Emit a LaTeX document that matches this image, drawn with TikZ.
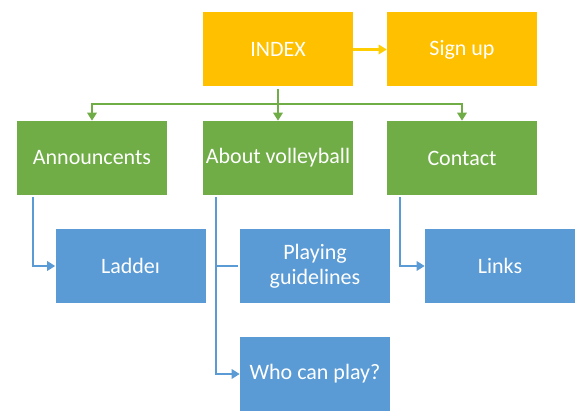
\documentclass[tikz,border=0pt]{standalone}
\usepackage{fontspec}
\setmainfont{Carlito}
\usetikzlibrary{arrows.meta,calc}
\definecolor{corange}{HTML}{FFC000}
\definecolor{cgreen}{HTML}{70AD47}
\definecolor{cblue}{HTML}{5B9BD5}
\begin{document}
\begin{tikzpicture}[x=0.75pt,y=-0.75pt,
  box/.style={minimum width=112.5pt,minimum height=55.5pt,inner sep=0pt,text=white,font=\fontsize{16.5}{19}\selectfont,align=center},
  obox/.style={box,fill=corange},
  gbox/.style={box,fill=cgreen},
  bbox/.style={box,fill=cblue},
  tip/.style={-{Triangle[length=6pt,width=7pt]}},
  gline/.style={draw=cgreen,line width=1.6pt},
  bline/.style={draw=cblue,line width=1.6pt},
  oline/.style={draw=corange!80!yellow,line width=1.6pt}]
\useasboundingbox (0,0) rectangle (583,413);
\node[obox] (idx) at (278,49.5) {INDEX};
\node[obox] (sig) at (462,49.5) {Sign up};
\node[gbox] (ann) at (92,158) {Announcents};
\node[gbox] (abv) at (278,158) {About volleyball};
\node[gbox] (con) at (462,158) {Contact};
\node[bbox] (lad) at (130.5,266) {Laddeı};
\node[bbox] (pla) at (315,266) {Playing\\guidelines};
\node[bbox] (lnk) at (500,266) {Links};
\node[bbox] (who) at (315,374) {Who can play?};
% top
\draw[oline,tip] (idx.east) -- (sig.west);
\draw[gline,tip,shorten <=1.5pt] (idx.south) -- (abv.north);
\draw[gline,tip] ($(idx.south)+(0,17)$) -| (ann.north);
\draw[gline,tip] ($(idx.south)+(0,17)$) -| (con.north);
% lower
\draw[bline,tip,shorten <=1.5pt] ($(ann.south west)+(16,0)$) |- (lad.west);
\draw[bline,tip,shorten <=1.5pt] ($(abv.south west)+(13,0)$) |- (who.west);
\draw[bline] ($(pla.west)+(-2,0)$) -- ++(-22,0);
\draw[bline,tip,shorten <=1.5pt] ($(con.south west)+(13,0)$) |- (lnk.west);
\end{tikzpicture}
\end{document}
